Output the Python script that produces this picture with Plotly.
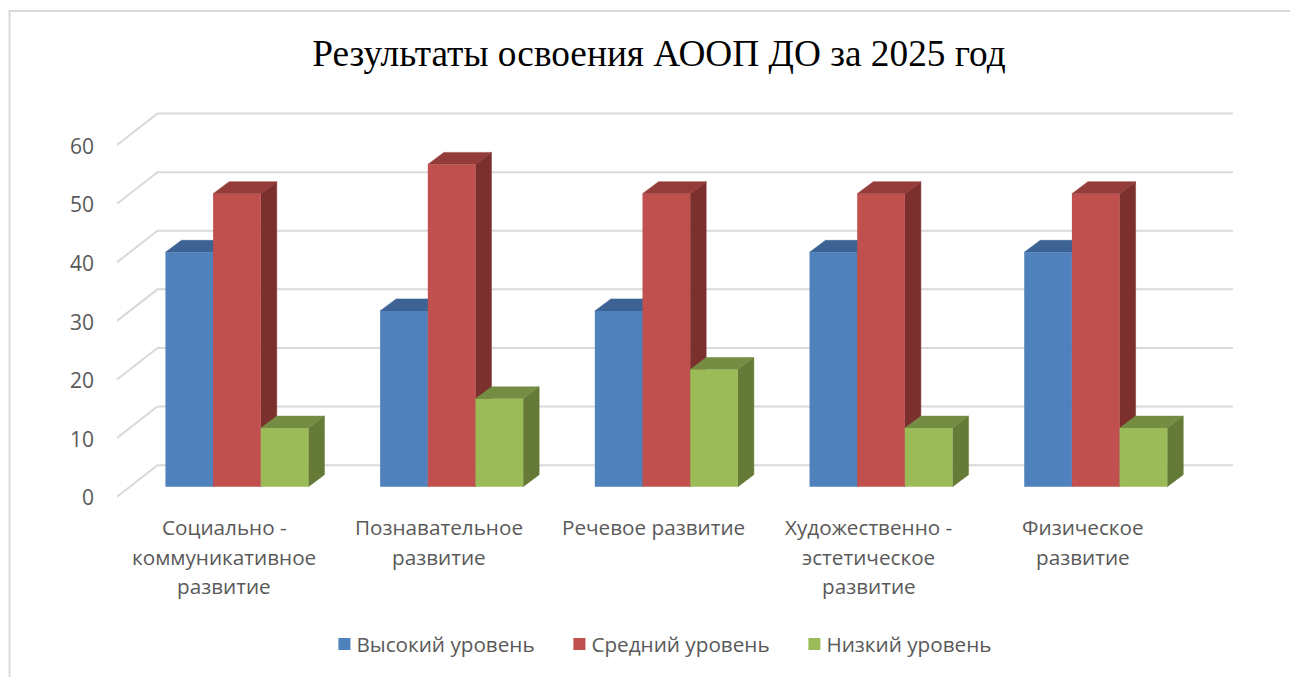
import plotly.graph_objects as go

# ---- data ----
categories = [
    ["Социально -", "коммуникативное", "развитие"],
    ["Познавательное", "развитие"],
    ["Речевое развитие"],
    ["Художественно -", "эстетическое", "развитие"],
    ["Физическое", "развитие"],
]
high = [40, 30, 30, 40, 40]
mid = [50, 55, 50, 50, 50]
low = [10, 15, 20, 10, 10]
tick_values = [0, 10, 20, 30, 40, 50, 60]
series = [("Высокий уровень", high, "#4f81bd", "#3c6393", "#34567f"),
          ("Средний уровень", mid, "#c0504d", "#933c3a", "#7c302e"),
          ("Низкий уровень", low, "#9bbb59", "#748d43", "#647a36")]

# ---- canvas geometry (page pixels; the page body adds an 8 px margin) ----
W, H = 1298, 677
PAGE = 8
L, R, T, B = 116.5, 1233, 100, 505
X0, STEP = 236.5, 214.8   # px of category 0 centre, px per category
Y0, UNIT = 486.7, 5.86    # px of value 0, px per value unit


def xv(px):
    return (px - X0) / STEP


def yv(px):
    return (Y0 - px) / UNIT


def xp(px):
    return (px - L) / (R - L)


def yp(px):
    return (B - px) / (B - T)


bar_w = 47.7 / STEP
group_w = 3 * bar_w
dx, dy = 16 / STEP, 12 / UNIT
grid_front = -1.7
grid_back = 3.68
label_drop = 0.25
gx0, gx1, gx2 = xv(116.5), xv(157), xv(1233)

fig = go.Figure()

# floor/wall gridlines
gx, gy = [], []
for v in tick_values:
    gx += [gx0, gx1, gx2, None]
    gy += [v + grid_front, v + grid_back, v + grid_back, None]
fig.add_trace(go.Scatter(x=gx, y=gy, mode="lines", showlegend=False, hoverinfo="skip",
                         line=dict(color="#d9d9d9", width=2)))

# depth faces of the bars (painted group by group, left to right)
for i in range(len(categories)):
    for s, (name, vals, front, top, side) in enumerate(series):
        left = i - group_w / 2 + s * bar_w
        right = left + bar_w
        v = vals[i]
        fig.add_trace(go.Scatter(
            x=[right, right + dx, right + dx, right, right],
            y=[0, dy, v + dy, v, 0],
            mode="lines", fill="toself", fillcolor=side, line=dict(color=side, width=0.5),
            showlegend=False, hoverinfo="skip"))
        fig.add_trace(go.Scatter(
            x=[left, left + dx, right + dx, right, left],
            y=[v, v + dy, v + dy, v, v],
            mode="lines", fill="toself", fillcolor=top, line=dict(color=top, width=0.5),
            showlegend=False, hoverinfo="skip"))

# front faces on an overlaying pair of axes so they paint above the depth faces
cat_idx = list(range(len(categories)))
for name, vals, front, top, side in series:
    fig.add_trace(go.Bar(x=cat_idx, y=vals, name=name, xaxis="x2", yaxis="y2",
                         marker=dict(color=front, line=dict(width=0))))

xrange_ = [xv(L), xv(R)]
yrange_ = [yv(B), yv(T)]
FONT = "Open Sans"
GREY = "#595959"

annotations = []
rows = [527, 556.5, 586]
for i, lines in enumerate(categories):
    for r, text in enumerate(lines):
        annotations.append(dict(text=text, x=i - 12.5 / STEP, xref="x", y=yp(rows[r]), yref="paper",
                                showarrow=False, xanchor="center", yanchor="middle",
                                font=dict(family=FONT, size=20.7, color=GREY)))

shapes = [
    dict(type="line", xref="paper", yref="paper", x0=xp(9), x1=xp(W), y0=yp(11), y1=yp(11),
         line=dict(color="#d9d9d9", width=2)),
    dict(type="line", xref="paper", yref="paper", x0=xp(9), x1=xp(9), y0=yp(10), y1=yp(H),
         line=dict(color="#d9d9d9", width=2)),
]

fig.update_layout(
    width=W - PAGE, height=H - PAGE,
    margin=dict(l=L - PAGE, r=W - R, t=T - PAGE, b=H - B, pad=0),
    paper_bgcolor="white", plot_bgcolor="white",
    barmode="group", bargap=1 - group_w, bargroupgap=0,
    title=dict(text="Результаты освоения АООП ДО за 2025 год",
               x=(659 - PAGE) / (W - PAGE), xanchor="center",
               y=1 - (53 - PAGE) / (H - PAGE), yanchor="middle",
               font=dict(family="Liberation Serif", size=37.3, color="black")),
    xaxis=dict(range=xrange_, showgrid=False, zeroline=False, showline=False,
               showticklabels=False, ticks="", fixedrange=True),
    xaxis2=dict(range=xrange_, overlaying="x", visible=False, fixedrange=True),
    yaxis=dict(range=yrange_, showgrid=False, zeroline=False, showline=False, ticks="",
               tickvals=[v + grid_front - label_drop for v in tick_values],
               ticktext=[str(v) for v in tick_values], ticklabelstandoff=22,
               tickfont=dict(family=FONT, size=21, color=GREY), fixedrange=True),
    yaxis2=dict(range=yrange_, overlaying="y", visible=False, fixedrange=True),
    legend=dict(orientation="h", x=xp(324), xanchor="left", y=yp(644), yanchor="middle",
                entrywidth=198, entrywidthmode="pixels", traceorder="normal", indentation=-8,
                font=dict(family=FONT, size=20.7, color=GREY), bgcolor="rgba(0,0,0,0)"),
    annotations=annotations, shapes=shapes, showlegend=True,
)

# Native legend keeps its entries; only the swatch sits closer to its text, and the page does not scroll.
post = """
document.documentElement.style.overflow = 'hidden';
document.querySelectorAll('.legend .legendsymbols').forEach(function (g) {
  g.setAttribute('transform', 'translate(8,0)');
});
"""
fig.write_html("out.html", post_script=post)
